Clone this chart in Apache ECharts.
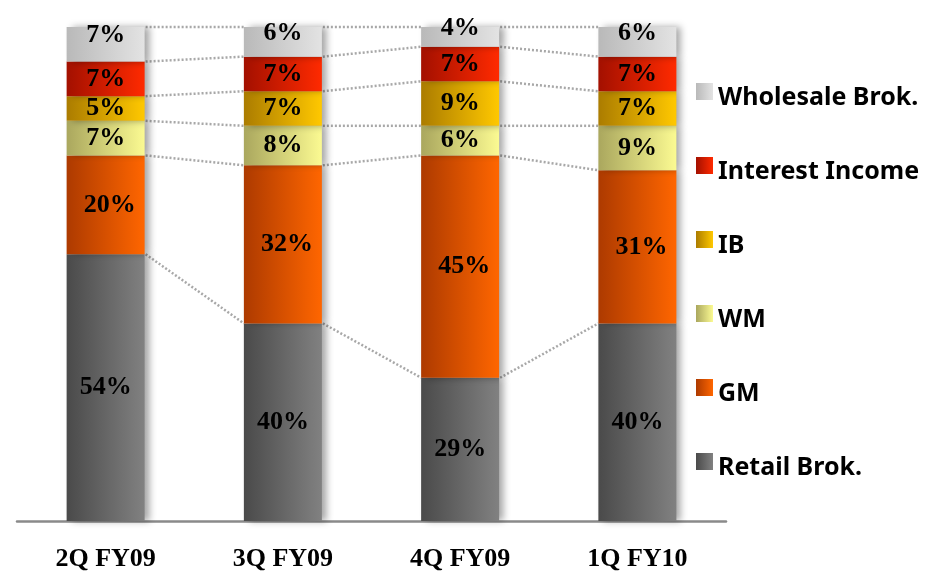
<!DOCTYPE html>
<html>
<head>
<meta charset="utf-8">
<style>
  html, body { margin: 0; padding: 0; background: #ffffff; }
  #chart { width: 926px; height: 574px; }
</style>
<script src="https://cdn.jsdelivr.net/npm/echarts@6/dist/echarts.min.js"></script>
</head>
<body>
<div id="chart"></div>
<script>
// Quarters on the category axis
const categories = ['2Q FY09', '3Q FY09', '4Q FY09', '1Q FY10'];

// Revenue mix per business line, % of total (bottom of the stack first)
const retailBrok     = [54, 40, 29, 40];
const gm             = [20, 32, 45, 31];
const wm             = [7, 8, 6, 9];
const ib             = [5, 7, 9, 7];
const interestIncome = [7, 7, 7, 7];
const wholesaleBrok  = [7, 6, 4, 6];

const seriesNames = ['Retail Brok.', 'GM', 'WM', 'IB', 'Interest Income', 'Wholesale Brok.'];
const seriesValues = [retailBrok, gm, wm, ib, interestIncome, wholesaleBrok];

// Horizontal gradient (dark left edge -> light right edge) for each segment type
const gradientStops = [
  ['#4a4a4a', '#818181'],
  ['#ad3a00', '#ff6600'],
  ['#aaa75e', '#fbfa92'],
  ['#ab7c00', '#ffc800'],
  ['#a31000', '#ff2a00'],
  ['#b9b9b9', '#e3e3e3']
];

function hGradient(c0, c1) {
  return new echarts.graphic.LinearGradient(0, 0, 1, 0, [
    { offset: 0, color: c0 },
    { offset: 1, color: c1 }
  ]);
}

const BAR_WIDTH = 78;
const serifLabel = {
  fontFamily: '"Liberation Serif", "Times New Roman", serif',
  fontWeight: 'bold',
  fontSize: 26,
  color: '#000000'
};

const barSeries = seriesNames.map((name, si) => ({
  name: name,
  type: 'bar',
  stack: 'mix',
  barWidth: BAR_WIDTH,
  z: 3,
  itemStyle: {
    color: hGradient(gradientStops[si][0], gradientStops[si][1]),
    shadowColor: 'rgba(0,0,0,0.35)',
    shadowBlur: 7,
    shadowOffsetX: 5,
    shadowOffsetY: 0
  },
  label: Object.assign({
    show: true,
    position: 'inside',
    formatter: '{c}%',
    offset: si === seriesValues.length - 1 ? [0, -9] : (si === 1 ? [4, 0] : [0, 0])
  }, serifLabel),
  emphasis: { disabled: true },
  data: seriesValues[si]
}));

// Cumulative boundaries of each stack (top of every segment)
const boundaries = categories.map((_, ci) => {
  let sum = 0;
  return seriesValues.map(vals => (sum += vals[ci]));
});

// Dotted connectors between the same boundary of neighbouring bars
const connectorData = [];
for (let ci = 0; ci < categories.length - 1; ci++) {
  for (let k = 0; k < seriesValues.length; k++) {
    connectorData.push([ci, boundaries[ci][k], boundaries[ci + 1][k]]);
  }
}

const connectorSeries = {
  type: 'custom',
  name: 'connectors',
  silent: true,
  z: 1,
  encode: { x: 0, y: [1, 2] },
  data: connectorData,
  renderItem: function (params, api) {
    const ci = api.value(0);
    const a = api.coord([ci, api.value(1)]);
    const b = api.coord([ci + 1, api.value(2)]);
    const half = BAR_WIDTH / 2;
    return {
      type: 'line',
      shape: { x1: a[0] + half + 1, y1: a[1], x2: b[0] - half, y2: b[1] },
      style: { stroke: '#a8a8a8', lineWidth: 2.5, lineDash: [2, 2], fill: null }
    };
  }
};

// Legend swatch: 17x17 square sitting in the upper part of a 17x29 box,
// so the swatch rides a little above the middle of its label
const swatchIcon = 'path://M0,0L17,0L17,17L0,17Z M0,29L0.01,29L0.01,28.99Z';

const chart = echarts.init(document.getElementById('chart'), null, { renderer: 'canvas' });
chart.setOption({
  backgroundColor: '#ffffff',
  animation: false,
  grid: { left: 17, width: 709, top: 27, bottom: 53, containLabel: false },
  legend: {
    orient: 'vertical',
    left: 696,
    top: 83,
    padding: 0,
    itemGap: 45,
    itemWidth: 17,
    itemHeight: 29,
    icon: swatchIcon,
    selectedMode: false,
    data: seriesNames.slice().reverse(),
    itemStyle: { shadowBlur: 0, shadowOffsetX: 0, shadowColor: 'transparent', borderWidth: 0 },
    textStyle: {
      fontFamily: '"Noto Sans", "Noto Sans CJK KR", sans-serif',
      fontWeight: 'bold',
      fontSize: 25,
      lineHeight: 26,
      color: '#000000'
    }
  },
  xAxis: {
    type: 'category',
    data: categories,
    axisTick: { show: false },
    axisLine: { show: true, lineStyle: { color: '#8a8a8a', width: 2.5 } },
    axisLabel: Object.assign({ margin: 25 }, serifLabel),
    splitLine: { show: false }
  },
  yAxis: {
    type: 'value',
    min: 0,
    max: 100,
    show: false,
    splitLine: { show: false }
  },
  series: [connectorSeries].concat(barSeries)
});
</script>
</body>
</html>
